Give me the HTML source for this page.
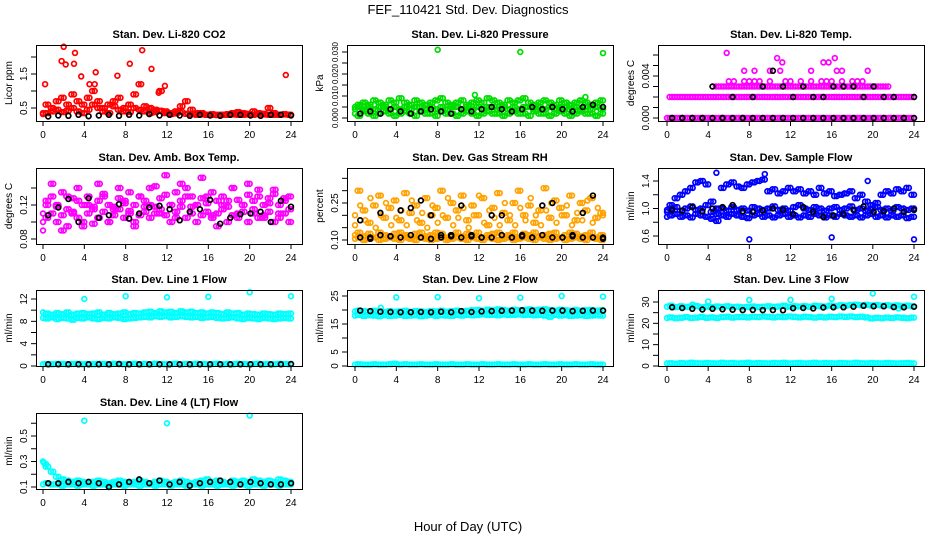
<!DOCTYPE html>
<html><head><meta charset="utf-8">
<style>
html,body{margin:0;padding:0;background:#fff;}
svg{display:block;font-family:"Liberation Sans",Arial,sans-serif;}
</style></head>
<body>
<svg id="chart" width="936" height="540" viewBox="0 0 936 540">
<text x="468" y="14" text-anchor="middle" font-size="13">FEF_110421  Std. Dev. Diagnostics</text>
<text x="468" y="531" text-anchor="middle" font-size="13">Hour of Day (UTC)</text>
</svg>
<script>
// ---------- data ----------
const xTickLabels = [0,4,8,12,16,20,24];
// Panel 1: CO2
const co2A = [0.35,0.6,0.5,0.7,0.8,0.6,0.9,0.7,0.6,0.8,1.0,0.7,0.5,0.6,0.7,0.8,0.5,0.6,0.9,1.2,0.55,0.5,0.45,1.0,0.4,0.35,0.4,0.55,0.7,0.45,0.35,0.35,0.3,0.32,0.3,0.3,0.32,0.35,0.38,0.35,0.33,0.4,0.35,0.33,0.5,0.35,0.3,0.32,0.3];
const co2B = [0.32,0.35,0.4,0.45,0.38,0.42,0.5,0.4,0.35,0.45,0.6,0.5,0.4,0.35,0.55,0.45,0.4,0.38,0.5,0.45,0.4,0.35,0.38,0.42,0.35,0.32,0.34,0.38,0.33,0.32,0.3,0.31,0.3,0.3,0.29,0.3,0.3,0.31,0.3,0.3,0.31,0.3,0.32,0.31,0.3,0.3,0.3,0.31,0.3];
const co2OutX = [0.2,1.8,2,2.2,3,3.1,3.7,4.5,5,5.1,7.2,8.4,9.6,10.5,11.8,11.2,23.5];
const co2OutY = [1.2,1.88,2.3,1.78,1.8,2.12,1.43,1.2,1.2,1.55,1.45,1.8,2.2,1.65,1.15,0.95,1.47];
const co2K = [0.25,0.28,0.27,0.3,0.26,0.28,0.3,0.27,0.3,0.28,0.32,0.28,0.3,0.28,0.27,0.3,0.28,0.27,0.3,0.3,0.28,0.27,0.3,0.3,0.28];
// Panel 2: Pressure
const presA = [0.005,0.006,0.007,0.006,0.008,0.007,0.006,0.008,0.007,0.009,0.007,0.006,0.008,0.007,0.006,0.007,0.008,0.009,0.007,0.006,0.007,0.008,0.006,0.007,0.008,0.007,0.009,0.008,0.007,0.006,0.008,0.007,0.008,0.009,0.007,0.006,0.007,0.008,0.007,0.006,0.008,0.007,0.006,0.007,0.008,0.007,0.006,0.007,0.008];
const presB = [0.002,0.001,0.003,0.002,0.001,0.002,0.003,0.002,0.001,0.002,0.003,0.002,0.001,0.003,0.002,0.002,0.001,0.003,0.002,0.002,0.001,0.002,0.003,0.002,0.001,0.002,0.003,0.002,0.002,0.001,0.002,0.003,0.002,0.002,0.001,0.003,0.002,0.002,0.001,0.002,0.003,0.002,0.001,0.002,0.003,0.002,0.002,0.001,0.002];
const presC = [0.004,0.005,0.004,0.005,0.004,0.005,0.005,0.004,0.005,0.004,0.005,0.004,0.005,0.005,0.004,0.005,0.004,0.005,0.004,0.005,0.005,0.004,0.005,0.004,0.005,0.004,0.005,0.005,0.004,0.005,0.004,0.005,0.004,0.005,0.005,0.004,0.005,0.004,0.005,0.004,0.005,0.005,0.004,0.005,0.004,0.005,0.004,0.005,0.004];
const presOutX = [8,16,24,11.6,22.3];
const presOutY = [0.031,0.030,0.0295,0.0105,0.0095];
const presK = [0.002,0.003,0.002,0.004,0.003,0.002,0.003,0.004,0.003,0.002,0.004,0.003,0.004,0.005,0.004,0.003,0.004,0.005,0.004,0.005,0.004,0.003,0.005,0.006,0.005];
// Panel 3: Li-820 temp
const tempLow = [0,0,0,0,0,0,0,0,0,0,0,0,0,0,0,0,0,0,0,0,0,0,0,0,0,0,0,0,0,0,0,0,0,0,0,0,0,0,0,0,0,0,0,0,0,0,0,0,0];
const tempMid = [null,0.002,0.002,0.002,0.002,0.002,0.002,0.002,0.002,0.002,0.002,0.002,0.002,0.002,0.002,0.002,0.002,0.002,0.002,0.002,0.002,0.002,0.002,0.002,0.002,0.002,0.002,0.002,0.002,0.002,0.002,0.002,0.002,0.002,0.002,0.002,0.002,0.002,0.002,0.002,0.002,0.002,0.002,0.002,0.002,0.002,0.002,0.002,0.002];
const tempHi = [null,null,null,null,null,null,null,null,null,null,0.003,0.003,0.003,0.003,0.003,0.003,0.003,0.003,0.003,0.003,0.003,0.003,0.003,0.003,0.003,0.003,0.003,0.003,0.003,0.003,0.003,0.003,0.003,0.003,0.003,0.003,0.003,0.003,0.003,0.003,0.003,0.003,0.003,0.003,null,null,null,null,null];
const tempTopX = [6,6.5,7.5,8,8.5,9,10,11.5,12,13,14,15,15.5,16,17,18,18.5,19,7.5,8.5,10,11,14,16.5,17,19.5,5.8,10.7,11.2,15.2,15.7,16.3];
const tempTopY = [0.0035,0.0035,0.0035,0.0035,0.0035,0.0035,0.0035,0.0035,0.0035,0.0035,0.0035,0.0035,0.0035,0.0035,0.0035,0.0035,0.0035,0.0035,0.0045,0.0045,0.0045,0.0045,0.0045,0.0045,0.0045,0.0045,0.0062,0.0057,0.0053,0.0053,0.0053,0.0057];
const tempK = [0,0,0,0,0.003,0,0.002,0,0.002,0.003,0.0045,0.003,0.002,0.003,0.002,0.002,0.003,0.003,0.003,0.002,0.003,0.002,0.002,0,0.002];
const tempK0 = [0,0,0,0,0,0,0,0,0,0,0,0,0,0,0,0,0,0,0,0,0,0,0,0,0];
// Panel 4: Amb box temp
const ambA = [0.11,0.125,0.13,0.12,0.135,0.115,0.128,0.14,0.12,0.13,0.118,0.125,0.133,0.12,0.115,0.128,0.122,0.135,0.12,0.13,0.125,0.14,0.118,0.128,0.132,0.12,0.135,0.125,0.14,0.13,0.12,0.128,0.122,0.135,0.125,0.13,0.118,0.14,0.126,0.12,0.132,0.125,0.138,0.12,0.128,0.133,0.12,0.125,0.13];
const ambB = [0.1,0.105,0.11,0.1,0.108,0.095,0.112,0.105,0.1,0.11,0.098,0.105,0.112,0.1,0.108,0.115,0.105,0.11,0.1,0.108,0.112,0.105,0.11,0.115,0.108,0.1,0.112,0.118,0.105,0.11,0.1,0.108,0.112,0.105,0.11,0.115,0.1,0.108,0.105,0.112,0.1,0.11,0.105,0.108,0.112,0.1,0.105,0.11,0.1];
const ambC = [0.09,0.12,0.145,0.118,0.09,0.13,0.11,0.125,0.095,0.12,0.115,0.145,0.13,0.1,0.118,0.14,0.125,0.113,0.095,0.13,0.118,0.12,0.142,0.11,0.155,0.12,0.105,0.145,0.13,0.118,0.12,0.152,0.13,0.108,0.095,0.12,0.125,0.14,0.11,0.12,0.145,0.115,0.13,0.105,0.122,0.138,0.11,0.128,0.115];
const ambK = [0.108,0.117,0.127,0.1,0.128,0.105,0.108,0.121,0.104,0.11,0.117,0.119,0.115,0.102,0.112,0.115,0.126,0.098,0.105,0.109,0.11,0.112,0.1,0.125,0.118];
// Panel 5: Gas stream RH
const rhA = [0.12,0.13,0.115,0.125,0.11,0.13,0.12,0.115,0.125,0.13,0.12,0.11,0.125,0.13,0.115,0.12,0.13,0.125,0.11,0.12,0.13,0.115,0.125,0.12,0.13,0.11,0.12,0.125,0.13,0.115,0.12,0.13,0.11,0.125,0.12,0.13,0.115,0.12,0.125,0.13,0.11,0.12,0.13,0.125,0.115,0.12,0.13,0.11,0.12];
const rhB = [0.105,0.11,0.1,0.105,0.11,0.1,0.105,0.11,0.105,0.1,0.11,0.105,0.1,0.11,0.105,0.1,0.105,0.11,0.1,0.105,0.11,0.105,0.1,0.11,0.105,0.1,0.11,0.105,0.1,0.105,0.11,0.1,0.105,0.11,0.105,0.1,0.11,0.105,0.1,0.105,0.11,0.1,0.105,0.11,0.105,0.1,0.11,0.105,0.1];
const rhC = [0.2,0.3,0.22,0.17,0.24,0.28,0.19,0.23,0.26,0.18,0.29,0.21,0.24,0.17,0.27,0.2,0.23,0.3,0.19,0.25,0.22,0.28,0.18,0.24,0.2,0.27,0.16,0.23,0.29,0.21,0.18,0.25,0.3,0.2,0.24,0.17,0.22,0.31,0.19,0.26,0.23,0.2,0.28,0.18,0.25,0.22,0.27,0.19,0.21];
const rhD = [0.16,0.24,0.18,0.27,0.15,0.2,0.25,0.16,0.19,0.22,0.16,0.26,0.18,0.21,0.15,0.24,0.17,0.2,0.27,0.16,0.19,0.23,0.15,0.2,0.28,0.17,0.22,0.19,0.16,0.25,0.2,0.16,0.23,0.18,0.27,0.2,0.16,0.22,0.25,0.17,0.2,0.24,0.16,0.21,0.18,0.26,0.17,0.23,0.2];
const rhK = [0.18,0.105,0.21,0.115,0.22,0.23,0.26,0.2,0.12,0.115,0.24,0.12,0.11,0.2,0.2,0.11,0.12,0.11,0.24,0.25,0.11,0.12,0.21,0.28,0.11];
const rhK2 = [0.11,0.11,0.12,0.115,0.11,0.12,0.11,0.105,0.11,0.12,0.11,0.115,0.11,0.11,0.12,0.11,0.115,0.11,0.12,0.11,0.11,0.115,0.11,0.11,0.105];
// Panel 6: Sample flow
const sfLow = [0.88,0.9,0.92,0.88,0.9,0.87,0.92,0.9,0.88,0.85,0.82,0.9,0.88,0.92,0.9,0.88,0.86,0.9,0.92,0.88,0.9,0.87,0.9,0.92,0.88,0.9,0.87,0.9,0.88,0.92,0.9,0.87,0.9,0.88,0.92,0.9,0.88,0.9,0.87,0.9,0.92,0.88,0.9,0.87,0.9,0.88,0.9,0.86,0.88];
const sfMid = [0.98,1.0,1.02,0.97,1.0,1.03,0.98,1.0,1.05,0.95,0.92,1.0,0.97,1.02,0.98,1.0,0.97,1.02,1.0,0.98,1.0,1.03,0.98,1.0,0.97,1.02,1.05,1.0,0.98,1.02,1.0,0.97,1.0,1.02,0.98,1.0,1.03,0.98,1.0,0.97,1.0,1.02,0.98,1.0,0.97,1.02,1.0,0.98,1.0];
const sfHigh = [0.95,1.05,1.15,1.2,1.25,1.3,1.38,1.4,1.35,1.1,1.0,1.3,1.35,1.38,1.32,1.3,1.35,1.38,1.4,1.42,1.25,1.28,1.22,1.25,1.3,1.25,1.28,1.22,1.25,1.2,1.3,1.22,1.25,1.18,1.2,1.22,1.25,1.15,1.2,1.1,1.05,1.08,1.2,1.25,1.22,1.28,1.25,1.3,1.2];
const sfOutX = [4.8,8,16,24,19.5,9.5];
const sfOutY = [1.52,0.55,0.58,0.55,1.4,1.5];
const sfK = [0.98,0.97,1.02,0.96,1.0,1.02,1.05,0.96,0.95,0.97,1.0,0.98,0.92,1.02,0.95,0.88,0.9,0.92,0.98,1.03,0.95,0.96,1.0,0.95,0.98];
// Panel 7: Line 1 flow
const l1A = [9.6,9.4,9.2,9.5,9.3,9.6,9.2,9.4,9.5,9.3,9.4,9.6,9.2,9.5,9.3,9.4,9.6,9.3,9.5,9.4,9.6,9.7,9.5,9.8,9.6,9.7,9.5,9.8,9.6,9.7,9.5,9.6,9.4,9.6,9.5,9.3,9.6,9.4,9.5,9.2,9.4,9.3,9.2,9.4,9.3,9.2,9.4,9.3,9.4];
const l1B = [8.6,8.5,8.7,8.4,8.6,8.5,8.3,8.6,8.5,8.7,8.5,8.4,8.6,8.5,8.7,8.6,8.4,8.5,8.6,8.7,8.8,8.7,8.9,8.8,8.9,8.7,8.8,8.9,8.8,8.7,8.8,8.6,8.7,8.8,8.6,8.5,8.6,8.7,8.5,8.4,8.6,8.5,8.4,8.6,8.5,8.4,8.5,8.6,8.5];
const l1Low = [0.3,0.35,0.3,0.4,0.35,0.3,0.35,0.4,0.3,0.35,0.3,0.4,0.35,0.3,0.4,0.35,0.3,0.35,0.4,0.3,0.35,0.3,0.4,0.35,0.3,0.35,0.4,0.3,0.35,0.3,0.4,0.35,0.3,0.35,0.4,0.3,0.35,0.3,0.4,0.35,0.3,0.35,0.4,0.3,0.35,0.3,0.4,0.35,0.3];
const l1OutX = [4,8,12,16,20,24];
const l1OutY = [12.0,12.5,12.3,12.4,13.2,12.5];
const l1K = [0.3,0.3,0.3,0.3,0.3,0.3,0.3,0.35,0.3,0.3,0.3,0.3,0.3,0.3,0.3,0.3,0.3,0.3,0.3,0.3,0.3,0.3,0.3,0.3,0.35];
// Panel 8: Line 2 flow
const l2A = [19.5,19.8,19.6,19.4,19.7,19.5,19.3,19.6,19.4,19.5,19.7,19.4,19.6,19.5,19.3,19.6,19.5,19.7,19.4,19.6,19.8,19.5,19.7,19.9,20.0,19.8,20.1,19.9,20.2,20.0,19.8,20.1,19.9,20.0,20.2,19.9,20.1,20.3,20.0,19.8,20.1,19.9,19.8,20.0,19.7,19.9,20.0,19.8,19.9];
const l2B = [18.0,18.2,17.9,18.1,18.0,17.8,18.1,17.9,18.0,18.2,17.9,18.0,18.1,17.8,18.0,18.2,17.9,18.1,18.0,17.9,18.2,18.0,18.3,18.1,18.2,18.4,18.2,18.3,18.1,18.4,18.2,18.3,18.4,18.2,18.3,18.1,18.2,18.0,17.6,18.2,18.0,18.1,17.9,18.0,18.1,17.9,18.0,18.1,18.0];
const l2Low = [0.5,0.6,0.5,0.5,0.6,0.5,0.5,0.6,0.8,0.5,0.6,0.5,0.5,0.6,0.5,0.5,0.6,0.5,0.5,0.6,0.5,0.5,0.6,0.5,0.5,0.6,0.5,0.5,0.6,0.5,0.5,0.6,0.5,0.5,0.6,0.5,0.5,0.6,0.5,0.5,0.6,0.5,0.5,0.6,0.5,0.5,0.6,0.5,0.5];
const l2OutX = [2.5,4,8,12,16,20,24];
const l2OutY = [20.8,24.5,24.6,24.2,24.4,25.0,24.8];
const l2K = [19.8,19.6,19.4,19.3,19.2,19.2,19.3,19.2,19.4,19.2,19.6,19.3,19.5,19.6,19.7,19.8,19.9,19.8,19.7,19.8,19.8,19.6,19.7,19.8,19.8];
// Panel 9: Line 3 flow
const l3A = [27.8,28.2,27.6,28.0,27.7,27.9,28.1,27.5,27.8,27.6,27.9,27.7,28.0,27.6,27.8,27.5,27.7,27.9,27.6,27.8,28.0,27.7,27.9,28.2,27.8,28.0,27.9,28.1,27.8,28.2,28.0,27.9,28.3,28.1,28.5,28.3,28.6,28.8,28.5,28.7,28.4,28.6,28.3,28.5,28.2,28.4,28.1,28.3,28.0];
const l3B = [22.5,22.8,22.4,22.6,22.9,22.5,22.7,23.0,22.6,22.8,22.5,22.9,23.1,22.7,22.9,23.0,22.8,23.1,22.9,23.2,23.0,22.8,23.1,22.9,23.2,23.0,22.8,23.1,22.9,22.7,23.0,22.8,23.1,22.9,23.2,23.0,23.2,22.9,23.1,22.8,22.3,22.6,22.4,22.7,22.5,22.8,22.6,22.4,22.7];
const l3Low = [1.2,1.3,1.1,1.4,1.2,1.5,1.3,1.2,1.4,1.3,1.2,1.5,1.3,1.4,1.2,1.3,1.5,1.2,1.4,1.3,1.2,1.4,1.3,1.5,1.2,1.3,1.4,1.2,1.3,1.5,1.2,1.4,1.3,1.2,1.4,1.3,1.2,1.5,1.3,1.2,1.4,1.3,1.2,1.4,1.3,1.2,1.3,1.4,1.2];
const l3OutX = [4,8,12,16,20,24,2.5,22.5];
const l3OutY = [30.2,31.0,31.0,31.5,34.0,32.5,28.8,27.0];
const l3K = [27.5,27.2,26.8,26.5,26.8,26.6,26.4,26.2,26.3,26.2,26.2,26.1,27.1,27.2,27.0,27.4,27.5,27.5,27.8,28.2,28.0,28.0,27.6,27.5,27.8];
// Panel 10: Line 4 flow
const l4A = [0.3,0.26,0.22,0.18,0.16,0.15,0.14,0.15,0.14,0.13,0.14,0.15,0.14,0.13,0.14,0.15,0.14,0.13,0.14,0.15,0.14,0.13,0.14,0.15,0.14,0.13,0.14,0.15,0.14,0.13,0.14,0.15,0.16,0.14,0.15,0.14,0.13,0.15,0.14,0.15,0.14,0.16,0.15,0.14,0.15,0.14,0.16,0.15,0.14];
const l4B = [0.12,0.13,0.12,0.12,0.11,0.12,0.12,0.11,0.12,0.12,0.11,0.12,0.12,0.11,0.12,0.12,0.11,0.12,0.12,0.11,0.12,0.12,0.11,0.12,0.12,0.11,0.12,0.12,0.11,0.12,0.12,0.11,0.12,0.12,0.11,0.12,0.12,0.11,0.12,0.12,0.11,0.12,0.12,0.11,0.12,0.12,0.11,0.12,0.12];
const l4OutX = [4,12,20,0.1,0.3];
const l4OutY = [0.62,0.60,0.66,0.29,0.28];
const l4K = [0.13,0.13,0.14,0.13,0.14,0.13,0.1,0.12,0.14,0.16,0.13,0.15,0.12,0.14,0.11,0.13,0.14,0.15,0.14,0.12,0.14,0.13,0.12,0.12,0.13];

// ---------- layout ----------
const SVGNS = "http://www.w3.org/2000/svg";
const svg = document.getElementById('chart');
const colL = [36,347,658], colX0 = [43,355,667], colX24 = [291,603,914];
const rowT = [45,168,290,413];
const BW = 266, BH = 76;
function mk(tag, attrs, parent){ const e=document.createElementNS(SVGNS,tag); for(const k in attrs) e.setAttribute(k,attrs[k]); (parent||svg).appendChild(e); return e; }
const half = []; for(let i=0;i<49;i++) half.push(i*0.5);
const halfOff = []; for(let i=0;i<48;i++) halfOff.push(i*0.5+0.25);
const hourly = []; for(let i=0;i<25;i++) hourly.push(0.5+i*(23.5/24));

const panels = [
 {title:"Stan. Dev. Li-820 CO2", ylab:"Licor ppm", c:0,r:0, v1:0.5,p1:108,v2:1.5,p2:74, ticks:[0.5,1,1.5,2], labels:["0.5","1.5"], labVals:[0.5,1.5],
  series:[[half,co2A,"#ff0000",1],[half,co2B,"#ff0000",1],[co2OutX,co2OutY,"#ff0000"],[hourly,co2K,"#000"]]},
 {title:"Stan. Dev. Li-820 Pressure", ylab:"kPa", c:1,r:0, v1:0,p1:118,v2:0.03,p2:52, ticks:[0,0.005,0.01,0.015,0.02,0.025,0.03], labels:["0.000","0.010","0.020","0.030"], labVals:[0,0.01,0.02,0.03], lf:8,
  series:[[half,presA,"#00dd00",1],[half,presB,"#00dd00",1],[half,presC,"#00dd00",1],[presOutX,presOutY,"#00dd00"],[hourly,presK,"#000"]]},
 {title:"Stan. Dev. Li-820 Temp.", ylab:"degrees C", c:2,r:0, v1:0,p1:118,v2:0.004,p2:76, ticks:[0,0.001,0.002,0.003,0.004,0.005,0.006], labels:["0.000","0.004"], labVals:[0,0.004],
  series:[[half,tempLow,"#ff00ff",1],[half,tempMid,"#ff00ff",1],[half,tempHi,"#ff00ff",1],[tempTopX,tempTopY,"#ff00ff"],[hourly,tempK0,"#000"],[hourly,tempK,"#000"]]},
 {title:"Stan. Dev. Amb. Box Temp.", ylab:"degrees C", c:0,r:1, v1:0.08,p1:239,v2:0.12,p2:205, ticks:[0.08,0.1,0.12,0.14], labels:["0.08","0.12"], labVals:[0.08,0.12],
  series:[[half,ambA,"#ff00ff",1],[half,ambB,"#ff00ff",1],[half,ambC,"#ff00ff",1],[hourly,ambK,"#000"]]},
 {title:"Stan. Dev. Gas Stream RH", ylab:"percent", c:1,r:1, v1:0.10,p1:240,v2:0.25,p2:203, ticks:[0.1,0.15,0.2,0.25,0.3,0.35], labels:["0.10","0.25"], labVals:[0.1,0.25],
  series:[[half,rhA,"#ffa200",1],[half,rhB,"#ffa200",1],[half,rhC,"#ffa200",1],[half,rhD,"#ffa200"],[hourly,rhK2,"#000"],[hourly,rhK,"#000"]]},
 {title:"Stan. Dev. Sample Flow", ylab:"ml/min", c:2,r:1, v1:0.6,p1:236,v2:1.4,p2:181, ticks:[0.6,0.8,1.0,1.2,1.4], labels:["0.6","1.0","1.4"], labVals:[0.6,1.0,1.4],
  series:[[half,sfLow,"#0000ff",1],[half,sfMid,"#0000ff",1],[half,sfHigh,"#0000ff",1],[sfOutX,sfOutY,"#0000ff"],[hourly,sfK,"#000"]]},
 {title:"Stan. Dev. Line 1 Flow", ylab:"ml/min", c:0,r:2, v1:0,p1:366,v2:12,p2:299, ticks:[0,2,4,6,8,10,12], labels:["0","4","8","12"], labVals:[0,4,8,12],
  series:[[half,l1A,"#00ffff",1],[half,l1B,"#00ffff",1],[half,l1Low,"#00ffff",1],[l1OutX,l1OutY,"#00ffff"],[hourly,l1K,"#000"]]},
 {title:"Stan. Dev. Line 2 Flow", ylab:"ml/min", c:1,r:2, v1:0,p1:366,v2:25,p2:296, ticks:[0,5,10,15,20,25], labels:["0","5","15","25"], labVals:[0,5,15,25],
  series:[[half,l2A,"#00ffff",1],[half,l2B,"#00ffff",1],[half,l2Low,"#00ffff",1],[l2OutX,l2OutY,"#00ffff"],[hourly,l2K,"#000"]]},
 {title:"Stan. Dev. Line 3 Flow", ylab:"ml/min", c:2,r:2, v1:0,p1:366,v2:30,p2:302, ticks:[0,5,10,15,20,25,30], labels:["0","10","20","30"], labVals:[0,10,20,30],
  series:[[half,l3A,"#00ffff",1],[half,l3B,"#00ffff",1],[half,l3Low,"#00ffff",1],[l3OutX,l3OutY,"#00ffff"],[hourly,l3K,"#000"]]},
 {title:"Stan. Dev. Line 4 (LT) Flow", ylab:"ml/min", c:0,r:3, v1:0.1,p1:487,v2:0.5,p2:436, ticks:[0.1,0.2,0.3,0.4,0.5,0.6], labels:["0.1","0.3","0.5"], labVals:[0.1,0.3,0.5],
  series:[[half,l4A,"#00ffff",1],[half,l4B,"#00ffff",1],[l4OutX,l4OutY,"#00ffff"],[hourly,l4K,"#000"]]}
];

panels.forEach((p,pi)=>{
  const L = colL[p.c], T = rowT[p.r], B = T+BH;
  const g = mk('g',{});
  
  
  const xs = h => colX0[p.c] + (colX24[p.c]-colX0[p.c])*h/24;
  const ys = v => p.p1 + (v-p.v1)*(p.p2-p.p1)/(p.v2-p.v1);
  const t = mk('text',{x:L+BW/2,y:T-7,'text-anchor':'middle','font-size':11,'font-weight':'bold'},g);
  t.textContent = p.title;
  
  
  const pts = mk('g',{fill:'none','stroke-width':1.7},g);
  
  
  function drawSeries(X, Y, col){
    const n = Math.min(X.length, Y.length);
    for(let i=0;i<n;i++){
      if(Y[i]===null || Y[i]===undefined) continue;
      const cy = ys(Y[i]);
      if(cy < T-2 || cy > B+2) continue;
      const c = mk('circle',{cx:xs(X[i]).toFixed(1),cy:cy.toFixed(1),r:2.4,stroke:col},pts);
      
      
    }
  }
  p.series.forEach(s=>{
    drawSeries(s[0], s[1], s[2]);
    if(s[3]) drawSeries(halfOff, s[1].slice(1), s[2]);
  });
  const box = mk('rect',{x:L+0.5,y:T+0.5,width:BW,height:BH,fill:'none',stroke:'#000','stroke-width':1},g);
  
  
  const xa = mk('g',{},g);
  
  
  mk('line',{x1:xs(0),x2:xs(24),y1:B+0.5,y2:B+0.5,stroke:'#000'},xa);
  xTickLabels.forEach(h=>{
    mk('line',{x1:xs(h),x2:xs(h),y1:B,y2:B+5,stroke:'#000'},xa);
    const tl = mk('text',{x:xs(h),y:B+17,'text-anchor':'middle','font-size':10},xa);
    tl.textContent = h;
    
    
  });
  const ya = mk('g',{},g);
  
  
  const tv = p.ticks.filter(v=>ys(v)>=T-1 && ys(v)<=B+1);
  mk('line',{x1:L+0.5,x2:L+0.5,y1:ys(tv[0]),y2:ys(tv[tv.length-1]),stroke:'#000'},ya);
  tv.forEach(v=>{ mk('line',{x1:L-5,x2:L,y1:ys(v),y2:ys(v),stroke:'#000'},ya); });
  p.labels.forEach((lab,i)=>{
    const y = ys(p.labVals[i]);
    const tl = mk('text',{x:L-9,y:y,'text-anchor':'middle','font-size':p.lf||10,transform:`rotate(-90 ${L-9} ${y})`},ya);
    tl.textContent = lab;
    
    
  });
  const yl = mk('text',{x:L-24,y:T+BH/2,'text-anchor':'middle','font-size':10,transform:`rotate(-90 ${L-24} ${T+BH/2})`},g);
  yl.textContent = p.ylab;
  
  
});
</script>
</body></html>
